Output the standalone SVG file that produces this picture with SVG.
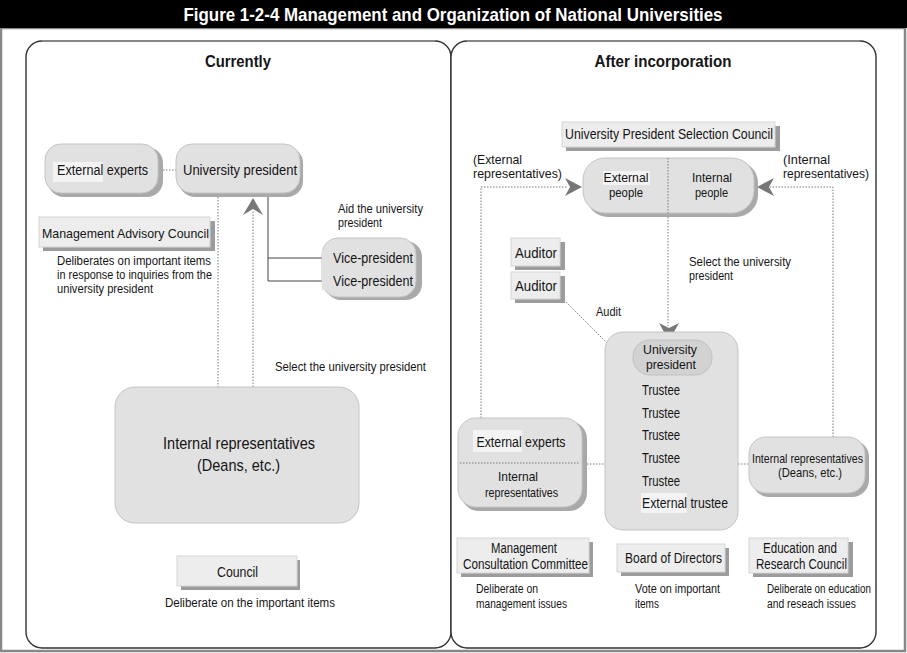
<svg xmlns="http://www.w3.org/2000/svg" width="907" height="653" viewBox="0 0 907 653">
<style>
.t{font-family:"Liberation Sans Narrow","Liberation Sans",Arial,sans-serif;fill:#151515}
.s14{font-size:14px}.s13{font-size:13px}.s12{font-size:12px}.s17{font-size:17px}
.b{font-weight:bold}
.node{fill:#e1e1e1;stroke:#c4c4c4;stroke-width:1}
.nshadow{fill:#a9a9a9}
.box{fill:#ededed;stroke:#d6d6d6;stroke-width:1}
.bshadow{fill:#9c9c9c}
.hl{fill:#f3f3f3}
.dot{fill:none;stroke:#7a7a7a;stroke-width:1;stroke-dasharray:1.5 1.5}
.solid{fill:none;stroke:#444;stroke-width:1}
.ah{fill:#777}
.panel{fill:#fff;stroke:#333;stroke-width:1.4}
</style>
<rect x="0" y="0" width="907" height="653" fill="#fff"/>
<rect x="1" y="28" width="904" height="623" fill="none" stroke="#888" stroke-width="2.5"/>
<rect x="0" y="0" width="907" height="28" fill="#000"/>
<text x="453" y="21" text-anchor="middle" class="t b" style="font-size:19px;fill:#fff" textLength="539" lengthAdjust="spacingAndGlyphs">Figure 1-2-4  Management and Organization of National Universities</text>

<g id="panel-left">
<rect class="panel" x="26" y="41" width="425" height="607" rx="16"/>
<line x1="42" y1="41" x2="435" y2="41" stroke="#888" stroke-width="2"/>
<text x="238" y="67" text-anchor="middle" class="t b s17" textLength="66" lengthAdjust="spacingAndGlyphs">Currently</text>
</g>
<g id="panel-right">
<rect class="panel" x="451" y="41" width="425" height="607" rx="16"/>
<line x1="467" y1="41" x2="860" y2="41" stroke="#888" stroke-width="2"/>
<text x="663" y="67" text-anchor="middle" class="t b s17" textLength="137" lengthAdjust="spacingAndGlyphs">After incorporation</text>
</g>

<g id="connectors">
<line class="dot" x1="157" y1="170" x2="176" y2="170"/>
<line class="dot" x1="218" y1="194" x2="218" y2="387"/>
<line class="dot" x1="253" y1="387" x2="253" y2="210"/>
<polygon class="ah" points="253,198 263,215 253,209 243,215"/>
<polyline class="solid" points="268,194 268,281 332,281"/>
<line class="solid" x1="268" y1="258" x2="332" y2="258"/>
<polyline class="dot" points="481,418 481,187 568,187"/>
<polygon class="ah" points="582,187 565,178 570,187 565,196"/>
<polyline class="dot" points="833,437 833,187 770,187"/>
<polygon class="ah" points="757,187 774,178 769,187 774,196"/>
<line class="dot" x1="668" y1="214" x2="668" y2="326"/>
<polygon class="ah" points="669,341 659,323 669,328 679,323"/>
<line class="dot" x1="564" y1="300" x2="606" y2="342"/>
<line class="dot" x1="587" y1="464" x2="605" y2="464"/>
<line class="dot" x1="738" y1="464" x2="749" y2="464"/>
<polyline class="solid" points="640,357 623,357 623,503 640,503"/>
<line class="solid" x1="623" y1="390" x2="640" y2="390"/>
<line class="solid" x1="623" y1="413" x2="640" y2="413"/>
<line class="solid" x1="623" y1="435" x2="640" y2="435"/>
<line class="solid" x1="623" y1="458" x2="640" y2="458"/>
<line class="solid" x1="623" y1="481" x2="640" y2="481"/>
</g>

<g id="external-experts-left">
<rect class="nshadow" x="48" y="147" width="115" height="50" rx="16"/>
<rect class="node" x="45" y="144" width="113" height="49" rx="16"/>
<rect class="hl" x="53" y="162" width="50" height="20"/>
<text x="102.5" y="175" text-anchor="middle" class="t s14" textLength="91" lengthAdjust="spacingAndGlyphs">External  experts</text>
</g>
<g id="university-president-left">
<rect class="nshadow" x="179" y="147" width="124" height="50" rx="16"/>
<rect class="node" x="176" y="144" width="124" height="49" rx="16"/>
<text x="240" y="175" text-anchor="middle" class="t s14" textLength="114" lengthAdjust="spacingAndGlyphs">University  president</text>
</g>
<g id="management-advisory-council">
<rect class="bshadow" x="43" y="221" width="172" height="30"/>
<rect class="box" x="39" y="217" width="171" height="30"/>
<text x="42" y="238" class="t s13" textLength="167" lengthAdjust="spacingAndGlyphs">Management  Advisory  Council</text>
<text x="57" y="265" class="t s12" textLength="154" lengthAdjust="spacingAndGlyphs">Deliberates  on  important  items</text>
<text x="57" y="279" class="t s12" textLength="155" lengthAdjust="spacingAndGlyphs">in  response  to  inquiries  from  the</text>
<text x="57" y="293" class="t s12" textLength="96" lengthAdjust="spacingAndGlyphs">university  president</text>
</g>
<g id="aid-label">
<text x="338" y="213" class="t s12" textLength="85" lengthAdjust="spacingAndGlyphs">Aid  the  university</text>
<text x="338" y="227" class="t s12" textLength="44" lengthAdjust="spacingAndGlyphs">president</text>
</g>
<g id="vice-presidents">
<rect class="nshadow" x="325" y="241" width="97" height="59" rx="16"/>
<rect class="node" x="322" y="238" width="94" height="59" rx="16"/>
<rect x="322" y="250" width="14" height="40" fill="#e1e1e1"/>
<text x="333" y="263" class="t s14" textLength="80" lengthAdjust="spacingAndGlyphs">Vice-president</text>
<text x="333" y="286" class="t s14" textLength="80" lengthAdjust="spacingAndGlyphs">Vice-president</text>
</g>
<g id="select-label-left">
<text x="275" y="371" class="t s12" textLength="151" lengthAdjust="spacingAndGlyphs">Select  the  university  president</text>
</g>
<g id="internal-representatives-left">
<rect class="node" x="115" y="387" width="244" height="136" rx="20"/>
<text x="239" y="449" text-anchor="middle" class="t s17" textLength="152" lengthAdjust="spacingAndGlyphs">Internal  representatives</text>
<text x="238.5" y="471" text-anchor="middle" class="t s17" textLength="83" lengthAdjust="spacingAndGlyphs">(Deans,  etc.)</text>
</g>
<g id="council">
<rect class="bshadow" x="181" y="560" width="119" height="30"/>
<rect class="box" x="177" y="556" width="120" height="30"/>
<text x="237.5" y="577" text-anchor="middle" class="t s14" textLength="41" lengthAdjust="spacingAndGlyphs">Council</text>
<text x="250" y="607" text-anchor="middle" class="t s12" textLength="170" lengthAdjust="spacingAndGlyphs">Deliberate  on  the  important  items</text>
</g>

<g id="selection-council">
<rect class="bshadow" x="566" y="126" width="214" height="25"/>
<rect class="box" x="562" y="122" width="213" height="25"/>
<text x="669" y="139" text-anchor="middle" class="t s14" textLength="208" lengthAdjust="spacingAndGlyphs">University  President  Selection  Council</text>
</g>
<g id="external-label">
<text x="473" y="164" class="t s13" textLength="49" lengthAdjust="spacingAndGlyphs">(External</text>
<text x="473" y="178" class="t s13" textLength="89" lengthAdjust="spacingAndGlyphs">representatives)</text>
</g>
<g id="internal-label">
<text x="783" y="164" class="t s13" textLength="47" lengthAdjust="spacingAndGlyphs">(Internal</text>
<text x="783" y="178" class="t s13" textLength="86" lengthAdjust="spacingAndGlyphs">representatives)</text>
</g>
<g id="people">
<rect class="nshadow" x="586" y="161" width="172" height="56" rx="22"/>
<rect class="node" x="583" y="158" width="171" height="55" rx="22"/>
<line class="dot" x1="668" y1="158" x2="668" y2="213"/>
<rect class="hl" x="603" y="171" width="47" height="14"/>
<text x="626" y="182" text-anchor="middle" class="t s13" textLength="45" lengthAdjust="spacingAndGlyphs">External</text>
<text x="626" y="197" text-anchor="middle" class="t s13" textLength="34" lengthAdjust="spacingAndGlyphs">people</text>
<text x="712" y="182" text-anchor="middle" class="t s13" textLength="40" lengthAdjust="spacingAndGlyphs">Internal</text>
<text x="711.5" y="197" text-anchor="middle" class="t s13" textLength="33" lengthAdjust="spacingAndGlyphs">people</text>
</g>
<g id="select-label-right">
<text x="689" y="266" class="t s12" textLength="102" lengthAdjust="spacingAndGlyphs">Select  the  university</text>
<text x="689" y="280" class="t s12" textLength="44" lengthAdjust="spacingAndGlyphs">president</text>
</g>
<g id="auditor-1">
<rect class="bshadow" x="515" y="242" width="50" height="28"/>
<rect class="box" x="511" y="238" width="49" height="28"/>
<text x="536" y="258" text-anchor="middle" class="t s14" textLength="42" lengthAdjust="spacingAndGlyphs">Auditor</text>
</g>
<g id="auditor-2">
<rect class="bshadow" x="515" y="276" width="50" height="27"/>
<rect class="box" x="511" y="272" width="49" height="27"/>
<text x="536" y="291" text-anchor="middle" class="t s14" textLength="42" lengthAdjust="spacingAndGlyphs">Auditor</text>
</g>
<g id="audit-label">
<text x="596" y="316" class="t s12" textLength="25" lengthAdjust="spacingAndGlyphs">Audit</text>
</g>
<g id="board">
<rect class="node" x="605" y="332" width="133" height="198" rx="18"/>
<rect x="633" y="340" width="79" height="35" rx="17" fill="#d2d2d2" stroke="#c0c0c0"/>
<text x="670" y="354" text-anchor="middle" class="t s13" textLength="54" lengthAdjust="spacingAndGlyphs">University</text>
<text x="671" y="369" text-anchor="middle" class="t s13" textLength="50" lengthAdjust="spacingAndGlyphs">president</text>
<text x="642" y="395" class="t s14" textLength="38" lengthAdjust="spacingAndGlyphs">Trustee</text>
<text x="642" y="418" class="t s14" textLength="38" lengthAdjust="spacingAndGlyphs">Trustee</text>
<text x="642" y="440" class="t s14" textLength="38" lengthAdjust="spacingAndGlyphs">Trustee</text>
<text x="642" y="463" class="t s14" textLength="38" lengthAdjust="spacingAndGlyphs">Trustee</text>
<text x="642" y="486" class="t s14" textLength="38" lengthAdjust="spacingAndGlyphs">Trustee</text>
<rect class="hl" x="641" y="493" width="46" height="20"/>
<text x="642" y="508" class="t s14" textLength="86" lengthAdjust="spacingAndGlyphs">External  trustee</text>
</g>
<g id="consultation-members">
<rect class="nshadow" x="461" y="421" width="126" height="90" rx="18"/>
<rect class="node" x="458" y="418" width="124" height="89" rx="18"/>
<line class="dot" x1="460" y1="463" x2="580" y2="463"/>
<rect class="hl" x="473" y="430" width="49" height="22"/>
<text x="521" y="447" text-anchor="middle" class="t s14" textLength="89" lengthAdjust="spacingAndGlyphs">External  experts</text>
<text x="518" y="481" text-anchor="middle" class="t s13" textLength="40" lengthAdjust="spacingAndGlyphs">Internal</text>
<text x="521.5" y="497" text-anchor="middle" class="t s13" textLength="73" lengthAdjust="spacingAndGlyphs">representatives</text>
</g>
<g id="internal-representatives-right">
<rect class="nshadow" x="752" y="440" width="117" height="57" rx="17"/>
<rect class="node" x="749" y="437" width="116" height="56" rx="17"/>
<text x="807.5" y="463" text-anchor="middle" class="t s13" textLength="111" lengthAdjust="spacingAndGlyphs">Internal  representatives</text>
<text x="810" y="477" text-anchor="middle" class="t s13" textLength="64" lengthAdjust="spacingAndGlyphs">(Deans,  etc.)</text>
</g>
<g id="management-consultation-committee">
<rect class="bshadow" x="461" y="542" width="132" height="35"/>
<rect class="box" x="457" y="538" width="132" height="35"/>
<text x="524" y="553" text-anchor="middle" class="t s14" textLength="66" lengthAdjust="spacingAndGlyphs">Management</text>
<text x="525.5" y="569" text-anchor="middle" class="t s14" textLength="125" lengthAdjust="spacingAndGlyphs">Consultation  Committee</text>
<text x="476" y="593" class="t s12" textLength="62" lengthAdjust="spacingAndGlyphs">Deliberate  on</text>
<text x="476" y="608" class="t s12" textLength="91" lengthAdjust="spacingAndGlyphs">management  issues</text>
</g>
<g id="board-of-directors">
<rect class="bshadow" x="621" y="548" width="108" height="28"/>
<rect class="box" x="617" y="544" width="108" height="28"/>
<text x="673.5" y="563" text-anchor="middle" class="t s14" textLength="97" lengthAdjust="spacingAndGlyphs">Board  of  Directors</text>
<text x="635" y="593" class="t s12" textLength="85" lengthAdjust="spacingAndGlyphs">Vote  on  important</text>
<text x="635" y="608" class="t s12" textLength="24" lengthAdjust="spacingAndGlyphs">items</text>
</g>
<g id="education-research-council">
<rect class="bshadow" x="753" y="542" width="100" height="35"/>
<rect class="box" x="749" y="538" width="99" height="35"/>
<text x="800" y="553" text-anchor="middle" class="t s14" textLength="74" lengthAdjust="spacingAndGlyphs">Education  and</text>
<text x="801.5" y="569" text-anchor="middle" class="t s14" textLength="91" lengthAdjust="spacingAndGlyphs">Research  Council</text>
<text x="767" y="593" class="t s12" textLength="104" lengthAdjust="spacingAndGlyphs">Deliberate  on  education</text>
<text x="767" y="608" class="t s12" textLength="89" lengthAdjust="spacingAndGlyphs">and  reseach  issues</text>
</g>
</svg>
